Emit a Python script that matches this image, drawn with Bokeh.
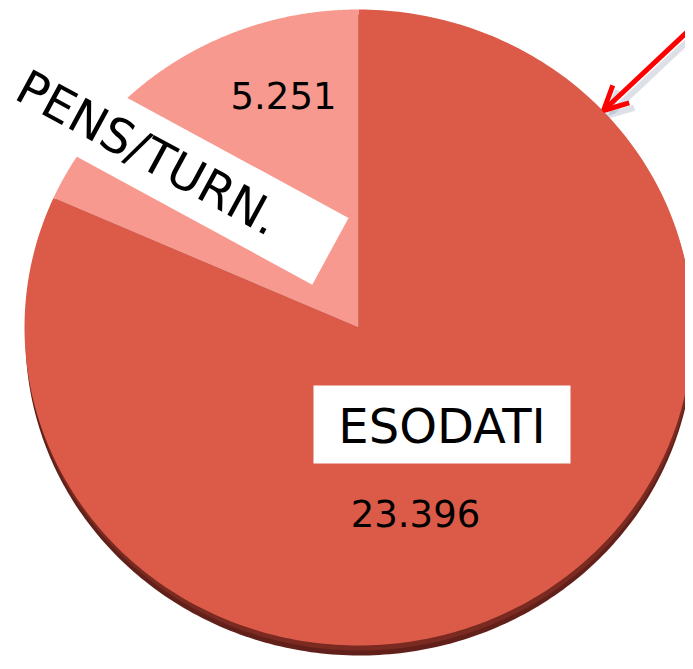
import numpy as np
from bokeh.plotting import figure
from bokeh.models import Range1d, Arrow, OpenHead
from bokeh.core.properties import value
from bokeh.embed import file_html
from bokeh.resources import INLINE

# ---- data ----
categories = ["ESODATI", "PENS/TURN."]
values = [23396, 5251]
value_labels = ["23.396", "5.251"]
colors = ["#DB5B48", "#F7998F"]

# ---- figure: 1 data unit = 1 screen pixel ----
W, H = 685, 661
p = figure(width=W, height=H, x_range=Range1d(0, W), y_range=Range1d(0, H),
           output_backend="svg", toolbar_location=None, min_border=0,
           x_axis_location=None, y_axis_location=None)
p.grid.visible = False
p.outline_line_color = None
p.background_fill_color = "white"
p.border_fill_color = "white"


def Y(sy):
    return H - sy


cx, cy = 358, Y(327)
rx, ry = 334, 318

total = sum(values)
frac = [v / total for v in values]
start_p = np.pi / 2
end_p = start_p + 2 * np.pi * frac[1]
spans = [(end_p, start_p + 2 * np.pi), (start_p, end_p)]

# 3D side (shadow)
t = np.linspace(0, 2 * np.pi, 400)
p.patch(x=list(cx + 1 + rx * np.cos(t)), y=list(cy - 10 + ry * np.sin(t)),
        fill_color="#62201A", line_color=None)
p.patch(x=list(cx + 1 + rx * np.cos(t)), y=list(cy - 5 + ry * np.sin(t)),
        fill_color="#7A2A20", line_color=None)

xs, ys = [], []
for (a0, a1) in spans:
    tt = np.linspace(a0, a1, 300)
    xs.append([cx] + list(cx + rx * np.cos(tt)))
    ys.append([cy] + list(cy + ry * np.sin(tt)))
p.patches(xs=xs, ys=ys, fill_color=colors, line_color=None)

# arrow (with soft shadow)
p.add_layout(Arrow(end=OpenHead(size=24, line_color="#556688", line_width=6, line_alpha=0.2),
                   x_start=705, y_start=Y(24), x_end=608, y_end=Y(115),
                   line_color="#556688", line_width=6, line_alpha=0.2))
p.add_layout(Arrow(end=OpenHead(size=24, line_color="#FF0000", line_width=5),
                   x_start=700, y_start=Y(19), x_end=603, y_end=Y(110),
                   line_color="#FF0000", line_width=5))

# category label boxes
ang = -np.radians(28.5)
p.rect(x=[441.5, 148], y=[Y(424), Y(152)], width=[257, 414], height=[78, 76],
       angle=[0, ang], fill_color="white", line_color=None)

p.text(x=[441.5], y=[Y(425)], text=[categories[0]], text_font=value("DejaVu Sans"),
       text_font_size="48px", text_align="center", text_baseline="alphabetic",
       text_color="black")
p.text(x=[148], y=[Y(152)], text=[categories[1]], angle=[ang], text_font=value("DejaVu Sans"),
       text_font_size="48px", text_align="center", text_baseline="alphabetic",
       text_color="black")

# values
p.text(x=[415, 283], y=[Y(513), Y(95)], text=value_labels, text_font=value("DejaVu Sans"),
       text_font_size="37px", text_align="center", text_baseline="alphabetic",
       text_color="black")

open("out.html", "w").write(file_html(p, INLINE))
